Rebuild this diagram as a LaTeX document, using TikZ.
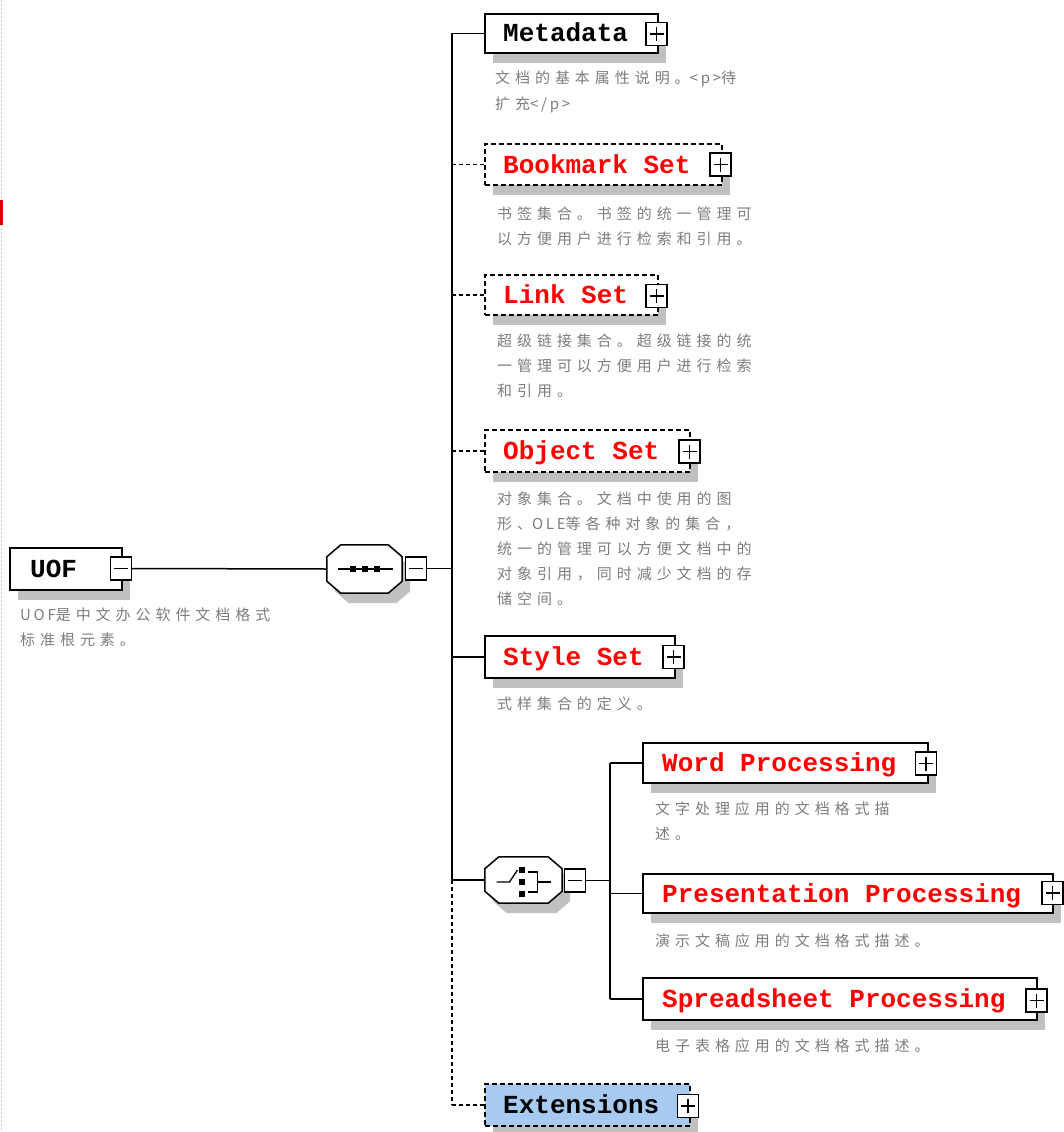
\documentclass[tikz,border=0pt]{standalone}
\usepackage{fontspec}
\newfontfamily\lblfont{Liberation Mono}
\newfontfamily\cjk[LetterSpace=33]{Noto Sans CJK SC}
\newcommand\lat[1]{{\addfontfeature{LetterSpace=18}#1}}
\definecolor{shadowgray}{RGB}{192,192,192}
\definecolor{descgray}{RGB}{125,125,125}
\definecolor{extblue}{RGB}{166,202,240}
\definecolor{lblred}{RGB}{255,0,0}
\newcommand\mkplus[2]{%
  \node[pbox] (#2) at (#1) {};
  \draw[line width=1.3pt] ([xshift=-7pt]#2.center) -- ([xshift=7pt]#2.center)
        ([yshift=-7pt]#2.center) -- ([yshift=7pt]#2.center);}
\newcommand\mkminus[2]{%
  \node[pbox] (#2) at (#1) {};
  \draw[line width=1.3pt] ([xshift=-7pt]#2.center) -- ([xshift=7pt]#2.center);}
\tikzset{
  elem/.style={draw=black, line width=1.6pt, fill=white, rectangle, inner sep=0,
    preaction={fill=shadowgray, transform canvas={xshift=8pt,yshift=-10pt}}},
  optelem/.style={elem, dash pattern=on 5pt off 3pt},
  pbox/.style={draw=black, line width=1.4pt, fill=white, rectangle,
    minimum width=21pt, minimum height=23pt, inner sep=0},
  lbl/.style={font=\lblfont\bfseries\fontsize{26}{30}\selectfont, anchor=base west, inner sep=0},
  desc/.style={font=\cjk\fontsize{15}{25}\selectfont, text=descgray, anchor=base west,
    align=left, inner sep=0},
  conn/.style={line width=1.5pt, draw=black},
  optconn/.style={conn, dash pattern=on 4pt off 3pt},
  anchorbox/.style={rectangle, inner sep=0, draw=none}
}
\begin{document}
\begin{tikzpicture}[x=1pt,y=-1pt]
\useasboundingbox (0,0) rectangle (1064,1132);
% left edge marks
\draw[gray!40, line width=1pt, dash pattern=on 2pt off 2pt] (1,0) -- (1,1132);
\fill[red!85!black] (0,200) rectangle (3,225);

\coordinate (trk) at (452,0);
\coordinate (sub) at (610,0);

% ---------- UOF root ----------
\node[elem, minimum width=112, minimum height=42] (uof) at (66,569) {};
\node[lbl] (uofT) at (30,577) {UOF};
\mkminus{121,568.5}{uofM}
\node[desc] (uofD) at (20,645) {\lat{UOF}是中文办公软件文档格式\\标准根元素。};

% ---------- sequence compositor ----------
\node[anchorbox, minimum width=75, minimum height=48] (seq) at (364.5,569) {};
\fill[shadowgray, transform canvas={xshift=8pt,yshift=-10pt}]
  ([xshift=14pt]seq.north west) -- ([xshift=-14pt]seq.north east) -- ([yshift=-12pt]seq.north east)
  -- ([yshift=12pt]seq.south east) -- ([xshift=-14pt]seq.south east) -- ([xshift=14pt]seq.south west)
  -- ([yshift=12pt]seq.south west) -- ([yshift=-12pt]seq.north west) -- cycle;
\draw[conn, fill=white]
  ([xshift=14pt]seq.north west) -- ([xshift=-14pt]seq.north east) -- ([yshift=-12pt]seq.north east)
  -- ([yshift=12pt]seq.south east) -- ([xshift=-14pt]seq.south east) -- ([xshift=14pt]seq.south west)
  -- ([yshift=12pt]seq.south west) -- ([yshift=-12pt]seq.north west) -- cycle;
\begin{scope}[shift={(seq.center)}]
  \draw[line width=1.3pt] (-27,0) -- (28,0);
  \fill (-15,-3) rectangle ++(6,6);
  \fill (-3,-3) rectangle ++(6,6);
  \fill (9,-3) rectangle ++(6,6);
\end{scope}
\mkminus{416,568.5}{seqM}
\draw[conn] (uofM.east) -- (seq.west);
\draw[conn] (seqM.east) -- (seqM.east -| trk);

% ---------- children of sequence ----------
\node[elem, minimum width=173, minimum height=39] (meta) at (571.5,33.5) {};
\node[lbl] (metaT) at (503,42) {Metadata};
\mkplus{656.5,34}{metaP}
\node[desc] (metaD) at (495,109) {文档的基本属性说明。\lat{<p>}待\\扩充\lat{</p>}};

\node[optelem, minimum width=237, minimum height=41] (bkm) at (603.5,164.5) {};
\node[lbl, text=lblred] (bkmT) at (503,173) {Bookmark Set};
\mkplus{720.5,164.5}{bkmP}
\node[desc] (bkmD) at (497,244) {书签集合。书签的统一管理可\\以方便用户进行检索和引用。};

\node[optelem, minimum width=173, minimum height=40] (lnk) at (571.5,295) {};
\node[lbl, text=lblred] (lnkT) at (503,303.5) {Link Set};
\mkplus{656.5,296}{lnkP}
\node[desc] (lnkD) at (497,396) {超级链接集合。超级链接的统\\一管理可以方便用户进行检索\\和引用。};

\node[optelem, minimum width=205, minimum height=42] (obj) at (587.5,451) {};
\node[lbl, text=lblred] (objT) at (503,459.5) {Object Set};
\mkplus{689.5,451.5}{objP}
\node[desc] (objD) at (497,604) {对象集合。文档中使用的图\\形、\lat{OLE}等各种对象的集合，\\统一的管理可以方便文档中的\\对象引用，同时减少文档的存\\储空间。};

\node[elem, minimum width=190, minimum height=42] (sty) at (580,657) {};
\node[lbl, text=lblred] (styT) at (503,665.5) {Style Set};
\mkplus{673.5,657}{styP}
\node[desc] (styD) at (497,709) {式样集合的定义。};

% ---------- choice compositor ----------
\node[anchorbox, minimum width=77, minimum height=46] (ch) at (523.5,880) {};
\fill[shadowgray, transform canvas={xshift=8pt,yshift=-10pt}]
  ([xshift=14pt]ch.north west) -- ([xshift=-14pt]ch.north east) -- ([yshift=-12pt]ch.north east)
  -- ([yshift=12pt]ch.south east) -- ([xshift=-14pt]ch.south east) -- ([xshift=14pt]ch.south west)
  -- ([yshift=12pt]ch.south west) -- ([yshift=-12pt]ch.north west) -- cycle;
\draw[conn, fill=white]
  ([xshift=14pt]ch.north west) -- ([xshift=-14pt]ch.north east) -- ([yshift=-12pt]ch.north east)
  -- ([yshift=12pt]ch.south east) -- ([xshift=-14pt]ch.south east) -- ([xshift=14pt]ch.south west)
  -- ([yshift=12pt]ch.south west) -- ([yshift=-12pt]ch.north west) -- cycle;
\begin{scope}[shift={(ch.center)}]
  \draw[line width=1.3pt] (-27,2) -- (-14,2) -- (-6,-10);
  \fill (-4.5,-13) rectangle ++(6,6);
  \fill (-4.5,-1) rectangle ++(6,6);
  \fill (-4.5,11) rectangle ++(6,6);
  \draw[line width=1.3pt] (4,-8) -- (14,-8) -- (14,12) -- (4,12);
  \draw[line width=1.3pt] (14,2) -- (27,2);
\end{scope}
\mkminus{575,880.5}{chM}
\draw[conn] (ch.west -| trk) -- (ch.west);
\draw[conn] (chM.east) -- (chM.east -| sub);

\node[elem, minimum width=285, minimum height=40] (wrd) at (785.5,763) {};
\node[lbl, text=lblred] (wrdT) at (662,771.5) {Word Processing};
\mkplus{926,763.5}{wrdP}
\node[desc] (wrdD) at (655,839) {文字处理应用的文档格式描\\述。};

\node[elem, minimum width=410, minimum height=39] (prs) at (848,893.5) {};
\node[lbl, text=lblred] (prsT) at (662,902) {Presentation Processing};
\mkplus{1052.5,893}{prsP}
\node[desc] (prsD) at (655,946) {演示文稿应用的文档格式描述。};

\node[elem, minimum width=394, minimum height=42] (spr) at (840,999) {};
\node[lbl, text=lblred] (sprT) at (662,1007.5) {Spreadsheet Processing};
\mkplus{1036.5,1000.5}{sprP}
\node[desc] (sprD) at (655,1051) {电子表格应用的文档格式描述。};

\draw[conn] (wrd.west -| sub) -- (spr.west -| sub);
\draw[conn] (wrd.west -| sub) -- (wrd.west);
\draw[conn] (prs.west -| sub) -- (prs.west);
\draw[conn] (spr.west -| sub) -- (spr.west);

% ---------- extensions ----------
\node[optelem, fill=extblue, minimum width=205, minimum height=42] (ext) at (587.5,1105) {};
\node[lbl] (extT) at (503,1113.5) {Extensions};
\mkplus{688,1106}{extP}

% ---------- trunk ----------
\draw[conn] (meta.west -| trk) -- (ch.west -| trk);
\draw[optconn] (ch.west -| trk) -- (ext.west -| trk);
\draw[conn] (meta.west -| trk) -- (meta.west);
\draw[optconn] (bkm.west -| trk) -- (bkm.west);
\draw[optconn] (lnk.west -| trk) -- (lnk.west);
\draw[optconn] (obj.west -| trk) -- (obj.west);
\draw[conn] (sty.west -| trk) -- (sty.west);
\draw[optconn] (ext.west -| trk) -- (ext.west);
\end{tikzpicture}
\end{document}
